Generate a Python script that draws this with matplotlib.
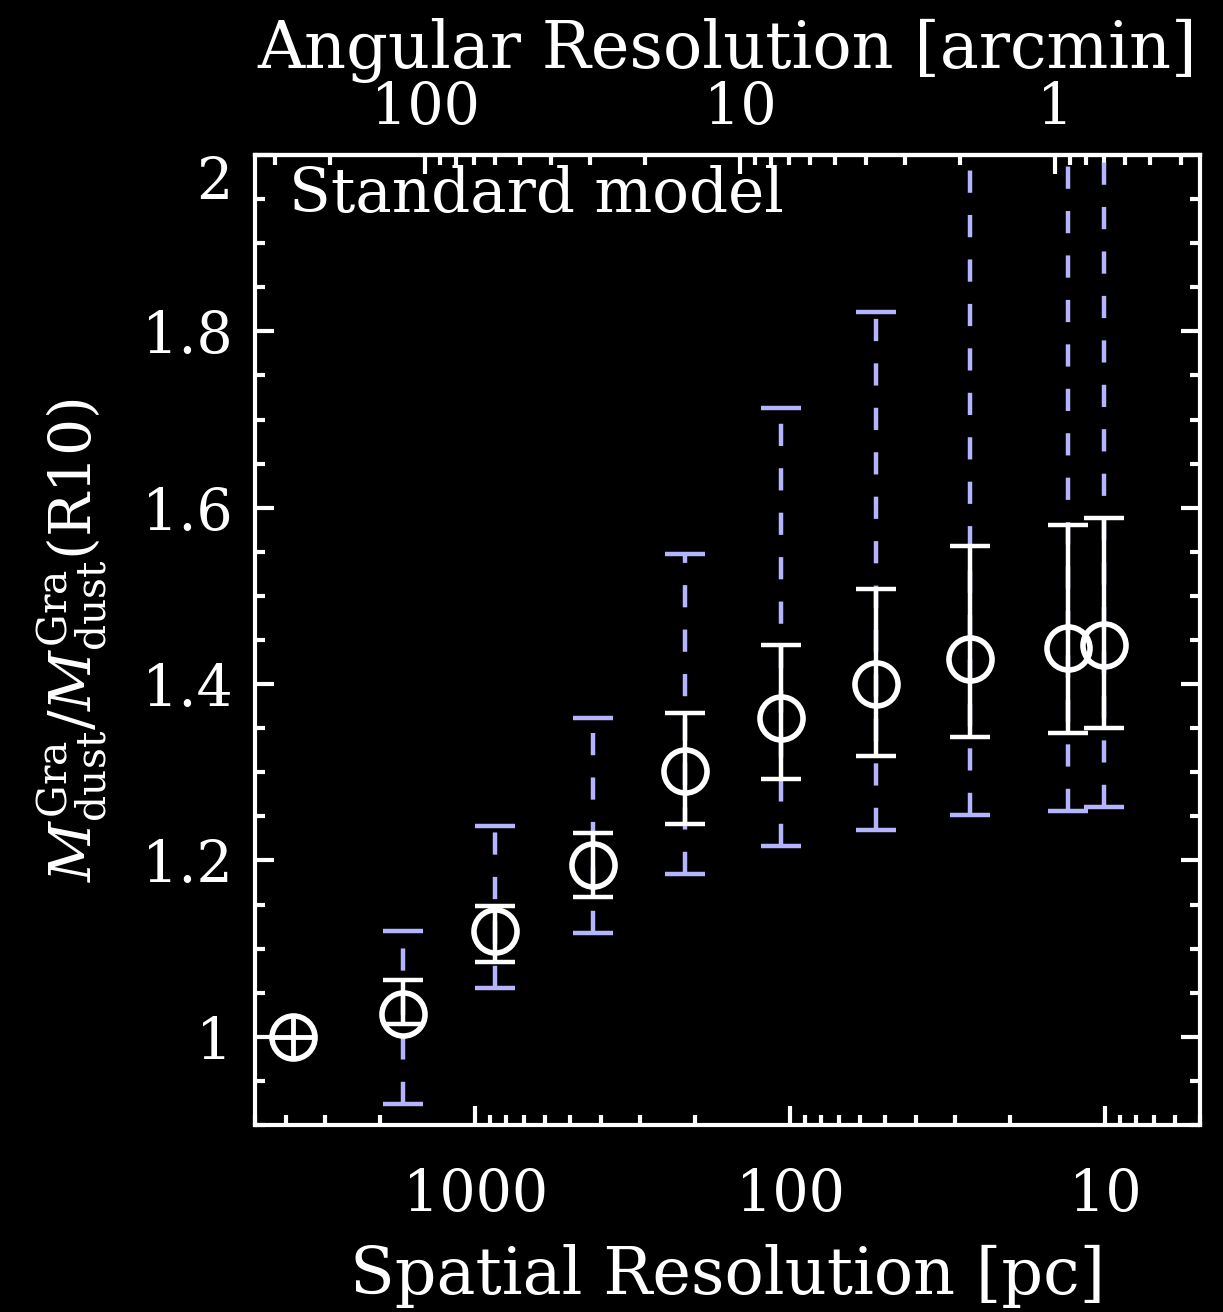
import numpy as np
import matplotlib
matplotlib.use("Agg")
import matplotlib.pyplot as plt
from matplotlib.ticker import LogLocator, FixedLocator, MultipleLocator, FuncFormatter, NullFormatter

# spatial resolution of each map [pc]
res_pc = [3780, 1700, 865, 422, 215, 107, 53.3, 26.8, 13.1, 10.1]
# ratio M_dust(res) / M_dust(R10)
ratio = [1.0, 1.026, 1.120, 1.195, 1.301, 1.361, 1.400, 1.428, 1.441, 1.444]
# white (solid) error bars: upper / lower limits
err_hi = [1.0, 1.064, 1.148, 1.231, 1.367, 1.444, 1.508, 1.557, 1.580, 1.588]
err_lo = [1.0, 1.015, 1.085, 1.159, 1.241, 1.292, 1.318, 1.340, 1.344, 1.350]
# blue (dashed) error bars: upper / lower limits
blue_hi = [1.0, 1.120, 1.239, 1.361, 1.548, 1.713, 1.822, 2.10, 2.10, 2.10]
blue_lo = [1.0, 0.924, 1.055, 1.118, 1.185, 1.216, 1.234, 1.251, 1.256, 1.261]

pc_per_arcmin = 14.4
y_ticks = [1.0, 1.2, 1.4, 1.6, 1.8, 2.0]
top_ticks = [100, 10, 1]

plt.rcParams['font.family'] = ['DejaVu Serif']
plt.rcParams['mathtext.fontset'] = 'dejavuserif'

fig = plt.figure(figsize=(12.23, 13.12), dpi=100, facecolor='black')
ax = fig.add_axes([255/1223, 1-1125/1312, 945/1223, 970/1312])
ax.set_facecolor('black')

x = np.array(res_pc)
y = np.array(ratio)
bh = np.array(blue_hi); bl = np.array(blue_lo)
wh = np.array(err_hi); wl = np.array(err_lo)

blue = '#b4b4ff'
# blue dashed bars (first point has none)
eb = ax.errorbar(x[1:], y[1:], yerr=[y[1:]-bl[1:], bh[1:]-y[1:]], fmt='none',
                 ecolor=blue, elinewidth=3.2, capsize=14.5, capthick=3.2, zorder=2)
eb[2][0].set_linestyle((0, (5, 5)))

ax.errorbar(x[1:], y[1:], yerr=[y[1:]-wl[1:], wh[1:]-y[1:]], fmt='none',
            ecolor='white', elinewidth=3.2, capsize=14.5, capthick=3.2, zorder=3)
ax.plot(x, y, 'o', ms=31, mfc='none', mec='white', mew=4, zorder=4)
ax.plot(x[:1], y[:1], '+', ms=29, mec='white', mew=3.5, zorder=4)

ax.set_xscale('log')
ax.set_xlim(5000, 5)
ax.set_ylim(0.9, 2.0)

ax.xaxis.set_major_locator(LogLocator(base=10))
ax.xaxis.set_minor_locator(LogLocator(base=10, subs=np.arange(2, 10)))
ax.xaxis.set_major_formatter(FuncFormatter(lambda v, p: '%g' % v))
ax.xaxis.set_minor_formatter(NullFormatter())
ax.yaxis.set_major_locator(FixedLocator(y_ticks))
ax.yaxis.set_minor_locator(MultipleLocator(0.05))
ax.yaxis.set_major_formatter(FuncFormatter(lambda v, p: '%g' % round(v, 2)))

for s in ax.spines.values():
    s.set_color('white')
    s.set_linewidth(3)

ax.tick_params(which='both', direction='in', colors='white', width=3,
               top=False, right=True, labelsize=41)
ax.tick_params(which='major', length=14)
ax.tick_params(which='minor', length=7)
ax.tick_params(axis='x', pad=30)
ax.tick_params(axis='y', pad=16)
# top label "2" hangs below its tick, as in the original
ax.yaxis.get_major_ticks()[-1].label1.set_va('top')

ax.set_xlabel('Spatial Resolution [pc]', color='white', fontsize=47, labelpad=15)
ax.set_ylabel(r'$M_{\rm dust}^{\rm Gra}/M_{\rm dust}^{\rm Gra}$(R10)', color='white',
              fontsize=42, labelpad=24)

top = ax.secondary_xaxis('top', functions=(lambda v: v / pc_per_arcmin,
                                           lambda v: v * pc_per_arcmin))
top.xaxis.set_major_locator(FixedLocator(top_ticks))
top.xaxis.set_minor_locator(LogLocator(base=10, subs=np.arange(2, 10)))
top.xaxis.set_major_formatter(FuncFormatter(lambda v, p: '%g' % v))
top.xaxis.set_minor_formatter(NullFormatter())
top.tick_params(which='both', direction='in', colors='white', width=3, labelsize=41, pad=14)
top.tick_params(which='major', length=14)
top.tick_params(which='minor', length=7)
top.spines['top'].set_color('white')
top.spines['top'].set_linewidth(3)
top.set_xlabel('Angular Resolution [arcmin]', color='white', fontsize=47, labelpad=8)

ax.text(0.036, 0.99, 'Standard model', transform=ax.transAxes, color='white',
        fontsize=44, va='top', ha='left')

fig.savefig('out.png', dpi=100, facecolor='black')
